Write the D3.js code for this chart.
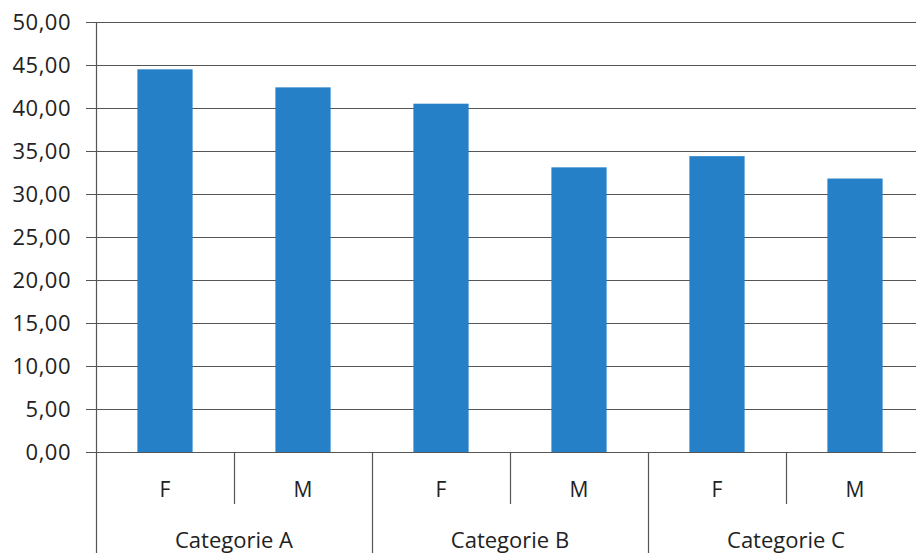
<!DOCTYPE html>
<html lang="it">
<head>
<meta charset="utf-8">
<title>Grafico</title>
<script src="https://d3js.org/d3.v7.min.js"></script>
<style>
  body { margin: 0; background: #fff; }
  text { font-family: "Open Sans", sans-serif; fill: #222; }
</style>
</head>
<body>
<div id="chart"></div>
<script>
  // data
  var categories = ["Categorie A", "Categorie B", "Categorie C"];
  var genders = ["F", "M"];
  var valuesF = [44.5, 40.5, 34.4];
  var valuesM = [42.4, 33.1, 31.8];
  var yTicks = [0, 5, 10, 15, 20, 25, 30, 35, 40, 45, 50];

  var W = 916, H = 553;
  var plotLeft = 96, plotTop = 22, plotBottom = 452;
  var groupW = 276;

  var svg = d3.select("#chart").append("svg")
    .attr("width", W).attr("height", H);

  var y = d3.scaleLinear().domain([0, 50]).range([plotBottom, plotTop]);
  var x0 = d3.scaleBand().domain(categories).range([plotLeft, plotLeft + groupW * categories.length]);
  var x1 = d3.scaleBand().domain(genders).range([0, x0.bandwidth()]);

  var fmt = function(d) { return d3.format(".2f")(d).replace(".", ","); };

  // gridlines + tick marks on the left
  svg.selectAll(".grid").data(yTicks).enter().append("line")
    .attr("x1", plotLeft - 10).attr("x2", W)
    .attr("y1", function(d) { return y(d) + 0.5; })
    .attr("y2", function(d) { return y(d) + 0.5; })
    .style("stroke", "#555").style("stroke-width", 1.2);

  svg.selectAll(".ylab").data(yTicks).enter().append("text")
    .attr("x", 71).attr("y", function(d) { return y(d); })
    .attr("dy", "0.36em")
    .attr("text-anchor", "end")
    .style("font-size", "22px")
    .style("letter-spacing", "0.5px")
    .text(fmt);

  // bars
  var rows = [];
  categories.forEach(function(c, i) {
    rows.push({ cat: c, g: "F", v: valuesF[i] });
    rows.push({ cat: c, g: "M", v: valuesM[i] });
  });

  var barW = x1.bandwidth() * 0.4;
  svg.selectAll(".bar").data(rows).enter().append("rect")
    .attr("x", function(d) { return x0(d.cat) + x1(d.g) + (x1.bandwidth() - barW) / 2; })
    .attr("y", function(d) { return y(d.v); })
    .attr("width", barW)
    .attr("height", function(d) { return y(0) - y(d.v); })
    .style("fill", "#2680c8");

  // vertical axis line
  svg.append("line")
    .attr("x1", plotLeft + 0.5).attr("x2", plotLeft + 0.5)
    .attr("y1", plotTop).attr("y2", H)
    .style("stroke", "#555").style("stroke-width", 1.2);

  // separators between sub categories (short) and categories (long)
  categories.forEach(function(c, i) {
    svg.append("line")
      .attr("x1", x0(c) + x1("M") + 0.5).attr("x2", x0(c) + x1("M") + 0.5)
      .attr("y1", plotBottom).attr("y2", 504)
      .style("stroke", "#555").style("stroke-width", 1.2);
    if (i > 0) {
      svg.append("line")
        .attr("x1", x0(c) + 0.5).attr("x2", x0(c) + 0.5)
        .attr("y1", plotBottom).attr("y2", H)
        .style("stroke", "#555").style("stroke-width", 1.2);
    }
  });

  // sub category labels
  svg.selectAll(".glab").data(rows).enter().append("text")
    .attr("x", function(d) { return x0(d.cat) + x1(d.g) + x1.bandwidth() / 2; })
    .attr("y", 497)
    .attr("text-anchor", "middle")
    .style("font-size", "21px")
    .text(function(d) { return d.g; });

  // category labels
  svg.selectAll(".clab").data(categories).enter().append("text")
    .attr("x", function(d) { return x0(d) + x0.bandwidth() / 2; })
    .attr("y", 548)
    .attr("text-anchor", "middle")
    .style("font-size", "22px")
    .text(function(d) { return d; });
</script>
</body>
</html>
